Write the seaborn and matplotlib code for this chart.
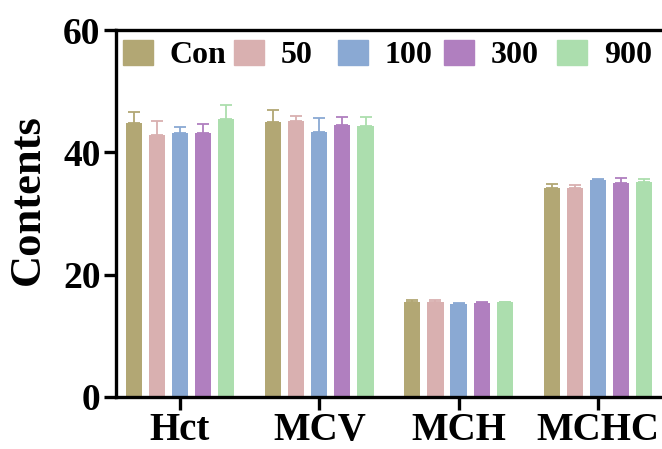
import pandas as pd
import matplotlib
matplotlib.use("Agg")
import matplotlib.pyplot as plt
import matplotlib.patches as mpatches
import seaborn as sns

# Dados
indices = ["Hct", "MCV", "MCH", "MCHC"]
grupos = ["Con", "50", "100", "300", "900"]
medias = {
    "Con": [44.8, 44.9, 15.5, 34.2],
    "50": [42.8, 45.1, 15.6, 34.1],
    "100": [43.2, 43.4, 15.25, 35.4],
    "300": [43.1, 44.5, 15.4, 35.0],
    "900": [45.4, 44.3, 15.5, 35.1],
}
desvios = {
    "Con": [1.8, 2.0, 0.4, 0.6],
    "50": [2.4, 0.8, 0.2, 0.5],
    "100": [1.0, 2.3, 0.15, 0.3],
    "300": [1.5, 1.3, 0.2, 0.8],
    "900": [2.3, 1.5, 0.1, 0.5],
}
cores = ["#b2a774", "#d9b0b0", "#8aa9d3", "#b07fbf", "#acdeae"]

linhas = []
for g in grupos:
    for i, idx in enumerate(indices):
        linhas.append({"indice": idx, "grupo": g, "valor": medias[g][i], "sd": desvios[g][i]})
df = pd.DataFrame(linhas)

sns.set_style("ticks", {"axes.edgecolor": "black", "text.color": "black",
                        "xtick.color": "black", "ytick.color": "black",
                        "axes.labelcolor": "black"})
plt.rcParams["font.family"] = ["Liberation Serif", "DejaVu Serif"]
plt.rcParams["font.weight"] = "bold"

fig = plt.figure(figsize=(6.62, 4.49), dpi=100)
ax = fig.add_axes([0.175, 0.116, 0.825, 0.817])

sns.barplot(data=df, x="indice", y="valor", hue="grupo", order=indices,
            hue_order=grupos, palette=cores, width=0.83, gap=0.3,
            errorbar=None, saturation=1, linewidth=0, legend=False, ax=ax)

# Barras de erro (somente para cima)
for j, g in enumerate(grupos):
    barras = ax.containers[j]
    xs = [b.get_x() + b.get_width() / 2 for b in barras]
    ys = [b.get_height() for b in barras]
    ax.errorbar(xs, ys, yerr=[[0] * len(ys), desvios[g]], fmt="none",
                ecolor=cores[j], elinewidth=1.3, capsize=4, capthick=1.3)

ax.set_xlim(-0.46, 3.46)
ax.set_ylim(0, 60)
ax.set_yticks([0, 20, 40, 60])
ax.set_xlabel("")
ax.set_ylabel("Contents", fontsize=32, fontweight="bold", labelpad=11, y=0.537)

for lado in ["left", "bottom", "top"]:
    ax.spines[lado].set_linewidth(2.4)
ax.spines["right"].set_visible(False)
ax.tick_params(axis="both", width=2.4, length=9, labelsize=27, pad=2)
ax.tick_params(axis="x", labelsize=28, pad=2)
for t in ax.get_xticklabels() + ax.get_yticklabels():
    t.set_fontweight("bold")

# Legenda: uma entrada por posição, como no original
pos_legenda = [0.0128, 0.216, 0.4066, 0.6007, 0.8077]
legendas = []
for g, cor, xl in zip(grupos, cores, pos_legenda):
    leg = ax.legend(handles=[mpatches.Patch(color=cor, label=g)], loc="center left",
                    bbox_to_anchor=(xl, 0.932), frameon=False, fontsize=23,
                    handlelength=0.94, handleheight=0.82, handletextpad=0.53,
                    borderpad=0, borderaxespad=0)
    for t in leg.get_texts():
        t.set_fontweight("bold")
    legendas.append(leg)
for leg in legendas[:-1]:
    ax.add_artist(leg)

fig.savefig("out.png", dpi=100)
